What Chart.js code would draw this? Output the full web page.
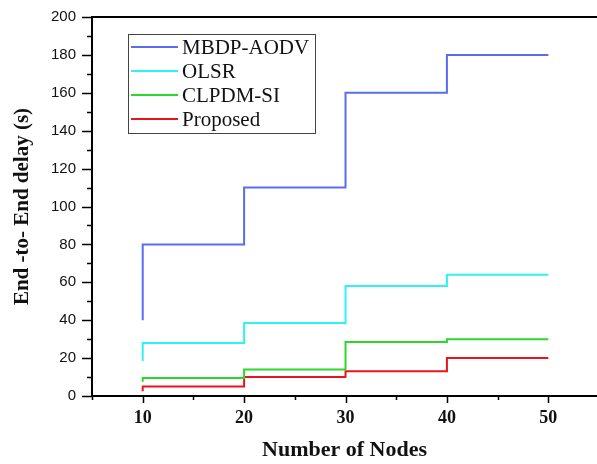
<!DOCTYPE html>
<html>
<head>
<meta charset="utf-8">
<script src="https://cdn.jsdelivr.net/npm/chart.js@4"></script>
<style>
  html, body { margin: 0; padding: 0; background: #fff; }
  #wrap { width: 597px; height: 464px; position: relative; }
</style>
</head>
<body>
<div id="wrap"><canvas id="delay-chart"></canvas></div>
<script>
const nodes = [10, 20, 30, 40, 50];
const seriesNames = ['MBDP-AODV', 'OLSR', 'CLPDM-SI', 'Proposed'];
const mbdpAodv = [40, 80, 110, 160, 180];
const olsr = [18.5, 28, 38.5, 58, 64];
const clpdmSi = [7.5, 9.5, 14, 28.5, 30];
const proposed = [2.5, 5, 10, 13, 20];
const seriesColors = ['#5a6cf0', '#2ef2f8', '#2cd82c', '#e8141e'];
const yTicks = [0, 20, 40, 60, 80, 100, 120, 140, 160, 180, 200];
const xTicks = [10, 20, 30, 40, 50];

const serif = '"Liberation Serif", "Times New Roman", serif';
const sans = '"Liberation Sans", Arial, sans-serif';

function toPoints(values) {
  return values.map((v, i) => ({ x: nodes[i], y: v }));
}

// frame, tick marks and the legend box are drawn by hand
const framePlugin = {
  id: 'frame',
  afterDraw(chart) {
    const ctx = chart.ctx;
    const area = chart.chartArea;
    const xs = chart.scales.x;
    const ys = chart.scales.y;
    ctx.save();
    ctx.strokeStyle = '#000';
    ctx.lineWidth = 2;
    ctx.beginPath();
    ctx.moveTo(area.left, area.top);
    ctx.lineTo(chart.width, area.top);
    ctx.stroke();

    ctx.lineWidth = 1.5;
    for (let v = 0; v <= 200; v += 10) {
      const y = Math.round(ys.getPixelForValue(v)) + 0.5;
      const len = v % 20 === 0 ? 10 : 5;
      ctx.beginPath();
      ctx.moveTo(area.left - len, y);
      ctx.lineTo(area.left, y);
      ctx.stroke();
    }
    for (let v = 5; v <= 50; v += 5) {
      const x = Math.round(xs.getPixelForValue(v)) + 0.5;
      const len = v % 10 === 0 ? 7 : 4;
      ctx.beginPath();
      ctx.moveTo(x, area.bottom);
      ctx.lineTo(x, area.bottom + len);
      ctx.stroke();
    }

    // legend
    const bx = 128, by = 34, bw = 187, bh = 99;
    ctx.fillStyle = '#fff';
    ctx.fillRect(bx, by, bw, bh);
    ctx.strokeStyle = '#444';
    ctx.lineWidth = 1;
    ctx.strokeRect(bx + 0.5, by + 0.5, bw, bh);
    ctx.font = '21px ' + serif;
    ctx.textBaseline = 'middle';
    chart.data.datasets.forEach((ds, i) => {
      const y = 47 + i * 24;
      ctx.strokeStyle = ds.borderColor;
      ctx.lineWidth = 2;
      ctx.beginPath();
      ctx.moveTo(131, y);
      ctx.lineTo(178, y);
      ctx.stroke();
      ctx.fillStyle = '#111';
      ctx.fillText(ds.label, 182, y + 1);
    });
    ctx.restore();
  }
};

const datasets = [mbdpAodv, olsr, clpdmSi, proposed].map((vals, i) => ({
  label: seriesNames[i],
  data: toPoints(vals),
  borderColor: seriesColors[i],
  backgroundColor: seriesColors[i],
  borderWidth: 2,
  pointRadius: 0,
  stepped: 'after',
  fill: false
}));

new Chart(document.getElementById('delay-chart'), {
  type: 'line',
  data: { datasets: datasets },
  options: {
    responsive: true,
    maintainAspectRatio: false,
    animation: false,
    layout: { padding: { top: 11, right: 0, left: 0, bottom: 0 } },
    plugins: {
      legend: { display: false },
      tooltip: { enabled: false }
    },
    scales: {
      x: {
        type: 'linear',
        min: 5,
        max: 54.8,
        afterBuildTicks: (scale) => {
          scale.ticks = xTicks.map(v => ({ value: v }));
        },
        afterFit: (scale) => { scale.height = 68; },
        grid: { display: false },
        border: { display: true, color: '#000', width: 2 },
        ticks: {
          padding: 4,
          color: '#111',
          font: { family: serif, size: 18, weight: 'bold' }
        },
        title: {
          display: true,
          text: 'Number of Nodes',
          color: '#111',
          padding: { top: 10, bottom: 0 },
          font: { family: serif, size: 22, weight: 'bold' }
        }
      },
      y: {
        type: 'linear',
        min: 0,
        max: 200,
        afterBuildTicks: (scale) => {
          scale.ticks = yTicks.map(v => ({ value: v }));
        },
        afterFit: (scale) => { scale.width = 92; },
        grid: { display: false },
        border: { display: true, color: '#000', width: 2 },
        ticks: {
          padding: 8,
          color: '#111',
          font: { family: sans, size: 15 }
        },
        title: {
          display: true,
          text: 'End -to- End delay (s)',
          color: '#111',
          padding: { top: 10, bottom: 0 },
          font: { family: serif, size: 21, weight: 'bold' }
        }
      }
    }
  },
  plugins: [framePlugin]
});
</script>
</body>
</html>
